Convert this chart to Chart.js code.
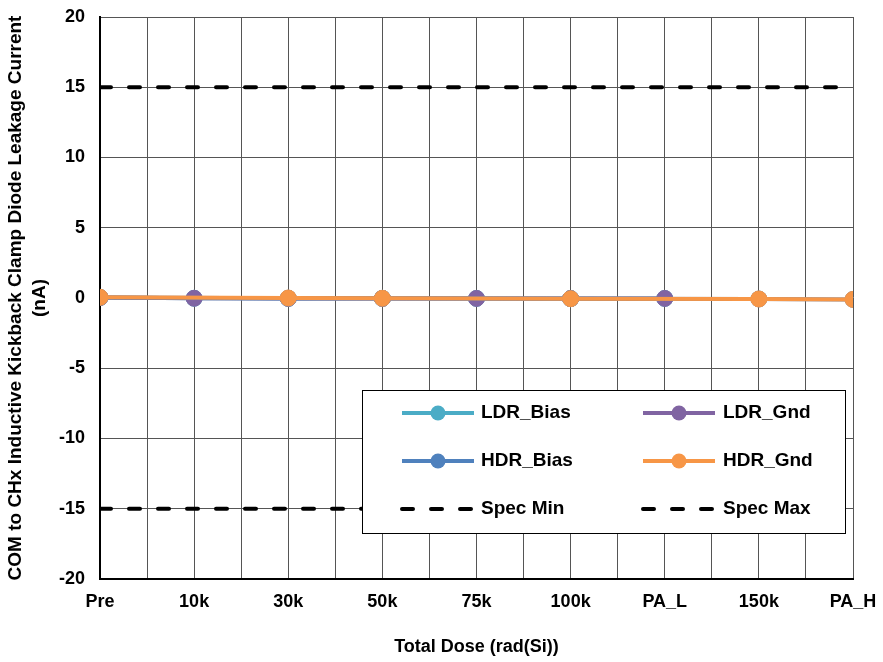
<!DOCTYPE html>
<html>
<head>
<meta charset="utf-8">
<script src="https://cdn.jsdelivr.net/npm/chart.js@4.4.1/dist/chart.umd.min.js"></script>
<style>
  html, body { margin: 0; padding: 0; background: #fff; }
  #wrap { width: 883px; height: 662px; }
</style>
</head>
<body>
<div id="wrap"><canvas id="myChart" width="883" height="662"></canvas></div>
<script>
"use strict";

// categories along the x axis
let doseLabels = ['Pre', '10k', '30k', '50k', '75k', '100k', 'PA_L', '150k', 'PA_H'];
// leakage current (nA); null = not measured at that step
let ldrBias = [0.04, -0.02, -0.03, -0.03, -0.03, -0.04, -0.03, null, null];
let ldrGnd  = [0.03, -0.02, -0.03, -0.03, -0.03, -0.04, -0.03, null, null];
let hdrBias = [0.04, null, -0.01, -0.02, null, -0.05, null, -0.07, -0.1];
let hdrGnd  = [0.05, null, 0.0, -0.02, null, -0.05, null, -0.07, -0.1];
let specMin = [-15, -15, -15, -15, -15, -15, -15, -15, -15];
let specMax = [15, 15, 15, 15, 15, 15, 15, 15, 15];
let yTicks = [-20, -15, -10, -5, 0, 5, 10, 15, 20];

function toPoints(values) {
    return values.map((v, i) => ({ x: i, y: v }));
}

function seriesSet(label, values, color, order) {
    return {
        label: label,
        data: toPoints(values),
        borderColor: color,
        backgroundColor: color,
        pointBackgroundColor: color,
        pointBorderColor: color,
        borderWidth: 4,
        pointBorderWidth: 1,
        pointRadius: 8,
        pointHoverRadius: 8,
        spanGaps: true,
        order: order
    };
}

function specSet(label, values) {
    return {
        label: label,
        data: toPoints(values),
        borderColor: '#000',
        backgroundColor: '#000',
        borderWidth: 4,
        borderCapStyle: 'round',
        borderDash: [11, 18],
        pointRadius: 0,
        order: 0
    };
}

const fontName = '"Liberation Sans", Arial, sans-serif';

// legend drawn inside the plot, on a white box
const legendBox = {
    id: 'legendBox',
    afterDraw(chart) {
        const ctx = chart.ctx;
        const bx = 362, by = 390, bw = 483, bh = 143;
        ctx.save();
        ctx.fillStyle = '#fff';
        ctx.fillRect(bx, by, bw, bh);
        ctx.strokeStyle = '#000';
        ctx.lineWidth = 1;
        ctx.strokeRect(bx + 0.5, by + 0.5, bw, bh);
        const lineX = [[402, 474], [643, 715]];
        const textX = [481, 723];
        const rowY = [413, 461, 509];
        chart.data.datasets.forEach((ds, i) => {
            const col = i % 2, row = Math.floor(i / 2);
            const y = rowY[row];
            ctx.beginPath();
            ctx.lineCap = ds.borderCapStyle || 'butt';
            ctx.setLineDash(ds.borderDash || []);
            ctx.strokeStyle = ds.borderColor;
            ctx.lineWidth = ds.borderWidth;
            ctx.moveTo(lineX[col][0], y);
            ctx.lineTo(lineX[col][1], y);
            ctx.stroke();
            ctx.setLineDash([]);
            if (ds.pointRadius > 0) {
                ctx.beginPath();
                ctx.fillStyle = ds.pointBackgroundColor;
                ctx.arc((lineX[col][0] + lineX[col][1]) / 2, y, 7.5, 0, Math.PI * 2);
                ctx.fill();
            }
            ctx.fillStyle = '#000';
            ctx.font = 'bold 19px ' + fontName;
            ctx.textBaseline = 'middle';
            ctx.textAlign = 'left';
            ctx.fillText(ds.label, textX[col], y);
        });
        ctx.restore();
    }
};

let ctxChart = document.getElementById('myChart').getContext('2d');

const data = {
    datasets: [
        seriesSet('LDR_Bias', ldrBias, '#4bacc6', 4),
        seriesSet('LDR_Gnd', ldrGnd, '#8064a2', 3),
        seriesSet('HDR_Bias', hdrBias, '#4f81bd', 2),
        seriesSet('HDR_Gnd', hdrGnd, '#f79646', 1),
        specSet('Spec Min', specMin),
        specSet('Spec Max', specMax)
    ]
};

const config = {
    type: 'line',
    data: data,
    options: {
        responsive: false,
        animation: false,
        layout: { padding: { top: 17, right: 30, left: 0, bottom: 0 } },
        plugins: { legend: { display: false }, tooltip: { enabled: false } },
        scales: {
            x: {
                type: 'linear',
                min: 0,
                max: doseLabels.length - 1,
                afterBuildTicks(scale) {
                    let t = [];
                    for (let v = 0; v <= doseLabels.length - 1; v += 0.5) t.push({ value: v });
                    scale.ticks = t;
                },
                afterFit(scale) {
                    scale.height = 83;
                    scale.paddingLeft = 0;
                    scale.paddingRight = 0;
                },
                ticks: {
                    autoSkip: false,
                    maxRotation: 0,
                    padding: 12,
                    color: '#000',
                    font: { family: fontName, size: 18, weight: 'bold' },
                    callback: (v) => Number.isInteger(v) ? doseLabels[v] : ''
                },
                grid: { color: '#555', lineWidth: 1, drawTicks: false },
                border: { color: '#000', width: 2 },
                title: {
                    display: true,
                    text: 'Total Dose (rad(Si))',
                    color: '#000',
                    font: { family: fontName, size: 18, weight: 'bold' },
                    padding: { top: 32 }
                }
            },
            y: {
                min: -20,
                max: 20,
                afterBuildTicks(scale) { scale.ticks = yTicks.map(v => ({ value: v })); },
                afterFit(scale) {
                    scale.width = 100;
                    scale.paddingTop = 0;
                    scale.paddingBottom = 0;
                },
                ticks: {
                    padding: 15,
                    color: '#000',
                    font: { family: fontName, size: 18, weight: 'bold' }
                },
                grid: { color: '#555', lineWidth: 1, drawTicks: false },
                border: { color: '#000', width: 2 },
                title: {
                    display: true,
                    text: ['COM to CHx Inductive Kickback Clamp Diode Leakage Current', '(nA)'],
                    color: '#000',
                    font: { family: fontName, size: 19, weight: 'bold', lineHeight: 1.25 },
                    padding: { top: 4, bottom: 0 }
                }
            }
        }
    },
    plugins: [legendBox]
};

const myChart = new Chart(ctxChart, config);
</script>
</body>
</html>
